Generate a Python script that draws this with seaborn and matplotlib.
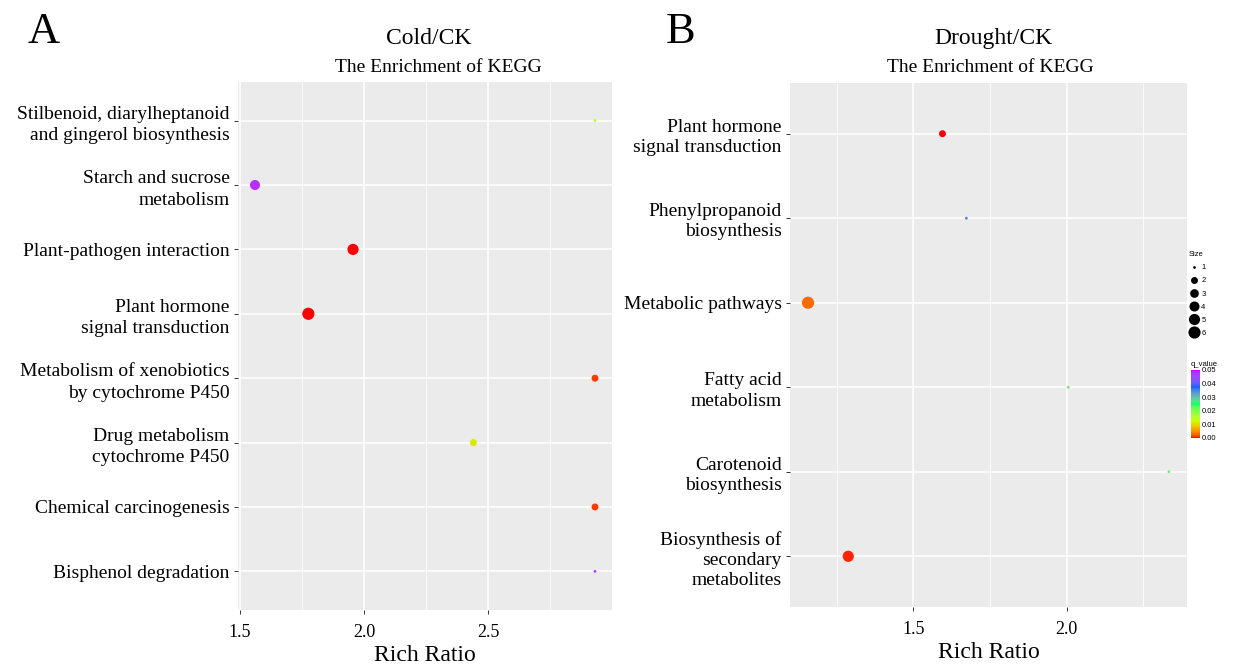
import numpy as np
import pandas as pd
import matplotlib
matplotlib.use("Agg")
import matplotlib.pyplot as plt
from matplotlib.colors import ListedColormap, Normalize, to_rgb
from matplotlib.cm import ScalarMappable
from matplotlib.lines import Line2D
import seaborn as sns

# ---------------- data ----------------
cold_pathways = [
    "Stilbenoid, diarylheptanoid\nand gingerol biosynthesis",
    "Starch and sucrose\nmetabolism",
    "Plant-pathogen interaction",
    "Plant hormone\nsignal transduction",
    "Metabolism of xenobiotics\nby cytochrome P450",
    "Drug metabolism\ncytochrome P450",
    "Chemical carcinogenesis",
    "Bisphenol degradation",
]
cold_ratio = [2.93, 1.56, 1.955, 1.775, 2.93, 2.44, 2.93, 2.93]
cold_q = [0.015, 0.048, 0.0, 0.0, 0.001, 0.011, 0.001, 0.048]
cold_size = [1, 4, 5, 6, 2, 2, 2, 1]

drought_pathways = [
    "Plant hormone\nsignal transduction",
    "Phenylpropanoid\nbiosynthesis",
    "Metabolic pathways",
    "Fatty acid\nmetabolism",
    "Carotenoid\nbiosynthesis",
    "Biosynthesis of\nsecondary\nmetabolites",
]
drought_ratio = [1.595, 1.673, 1.157, 2.005, 2.333, 1.288]
drought_q = [0.0, 0.036, 0.003, 0.023, 0.023, 0.0005]
drought_size = [2, 1, 6, 1, 1, 5]

size_levels = [1, 2, 3, 4, 5, 6]
q_ticks = [0.00, 0.01, 0.02, 0.03, 0.04, 0.05]
gradient_colours = ["#FF0000", "#CCFF00", "#00FF66", "#0066FF", "#CC00FF"]
cold_xticks = [1.5, 2.0, 2.5]
cold_xminor = [1.75, 2.25, 2.75]
drought_xticks = [1.5, 2.0]
drought_xminor = [1.25, 1.75, 2.25]

# ---------------- style ----------------
sns.set_theme(style="darkgrid", rc={
    "axes.facecolor": "#EBEBEB",
    "grid.color": "white",
    "axes.edgecolor": "#EBEBEB",
    "text.color": "black",
    "axes.labelcolor": "black",
    "xtick.color": "black",
    "ytick.color": "black",
})
plt.rcParams["font.family"] = ["Liberation Serif", "DejaVu Serif"]


# colour ramp interpolated in CIELAB (like ggplot's gradientn)
def srgb_to_lab(c):
    c = np.asarray(c, float)
    lin = np.where(c <= 0.04045, c / 12.92, ((c + 0.055) / 1.055) ** 2.4)
    M = np.array([[0.4124, 0.3576, 0.1805],
                  [0.2126, 0.7152, 0.0722],
                  [0.0193, 0.1192, 0.9505]])
    xyz = lin @ M.T / np.array([0.95047, 1.0, 1.08883])
    f = np.where(xyz > 0.008856, np.cbrt(xyz), 7.787 * xyz + 16 / 116)
    L = 116 * f[..., 1] - 16
    a = 500 * (f[..., 0] - f[..., 1])
    b = 200 * (f[..., 1] - f[..., 2])
    return np.stack([L, a, b], -1)


def lab_to_srgb(lab):
    L, a, b = lab[..., 0], lab[..., 1], lab[..., 2]
    fy = (L + 16) / 116
    fx = fy + a / 500
    fz = fy - b / 200
    f = np.stack([fx, fy, fz], -1)
    xyz = np.where(f > 0.206893, f ** 3, (f - 16 / 116) / 7.787)
    xyz = xyz * np.array([0.95047, 1.0, 1.08883])
    Minv = np.array([[3.2406, -1.5372, -0.4986],
                     [-0.9689, 1.8758, 0.0415],
                     [0.0557, -0.2040, 1.0570]])
    lin = xyz @ Minv.T
    lin = np.clip(lin, 0, 1)
    c = np.where(lin <= 0.0031308, 12.92 * lin, 1.055 * lin ** (1 / 2.4) - 0.055)
    return np.clip(c, 0, 1)


labs = srgb_to_lab([to_rgb(c) for c in gradient_colours])
pos = np.linspace(0, 1, len(gradient_colours))
tt = np.linspace(0, 1, 256)
lab_ramp = np.stack([np.interp(tt, pos, labs[:, k]) for k in range(3)], -1)
cmap = ListedColormap(lab_to_srgb(lab_ramp))
qnorm = Normalize(0, 0.05)


def diam_px(v):
    dmm = 1 + 5 * np.sqrt((v - 1) / 5.0)
    return 0.8 + 1.9 * dmm


size_map = {v: (diam_px(v) * 0.72) ** 2 for v in size_levels}

fig = plt.figure(figsize=(12.33, 6.67), dpi=100)
W, H = 1233.0, 667.0


def make_ax(x0, y0, x1, y1):
    return fig.add_axes([x0 / W, 1 - y1 / H, (x1 - x0) / W, (y1 - y0) / H])


axL = make_ax(238, 82, 612, 610)
axR = make_ax(790, 83, 1187, 607)


def draw(ax, paths, ratio, q, size, xt, xm, lsp):
    df = pd.DataFrame({"pathway": paths, "ratio": ratio, "q": q, "size": size})
    sns.scatterplot(data=df, x="ratio", y="pathway", hue="q", size="size",
                    palette=cmap, hue_norm=qnorm, sizes=size_map,
                    linewidth=0, legend=False, ax=ax, zorder=3)
    n = len(paths)
    ax.set_ylim(n - 0.4, -0.6)
    ax.margins(x=0.05)
    ax.set_xticks(xt)
    ax.set_xticks(xm, minor=True)
    ax.set_xticklabels([f"{t:.1f}" for t in xt])
    ax.grid(True, which="major", color="white", lw=1.1)
    ax.grid(True, which="minor", axis="x", color="white", lw=0.55)
    ax.tick_params(axis="both", which="major", length=3, width=0.7,
                   color="#333333", labelcolor="black", left=True, bottom=True)
    ax.tick_params(axis="x", which="minor", length=0)
    ax.tick_params(axis="y", labelsize=14, pad=3)
    ax.tick_params(axis="x", labelsize=13, pad=7)
    for lab in ax.get_yticklabels():
        lab.set_linespacing(lsp)
    ax.set_ylabel("")
    ax.set_xlabel("Rich Ratio", fontsize=17, labelpad=3)
    for s in ax.spines.values():
        s.set_visible(False)


draw(axL, cold_pathways, cold_ratio, cold_q, cold_size, cold_xticks,
     cold_xminor, 1.35)
draw(axR, drought_pathways, drought_ratio, drought_q, drought_size,
     drought_xticks, drought_xminor, 1.25)

# titles
fig.text(429 / W, 1 - 44 / H, "Cold/CK", fontsize=17, ha="center", va="baseline")
fig.text(438 / W, 1 - 72 / H, "The Enrichment of KEGG", fontsize=14,
         ha="center", va="baseline")
fig.text(993 / W, 1 - 44 / H, "Drought/CK", fontsize=17, ha="center", va="baseline")
fig.text(990 / W, 1 - 72 / H, "The Enrichment of KEGG", fontsize=14,
         ha="center", va="baseline")
fig.text(28 / W, 1 - 43 / H, "A", fontsize=32, ha="left", va="baseline")
fig.text(666 / W, 1 - 43 / H, "B", fontsize=32, ha="left", va="baseline")

# size legend
handles = [Line2D([], [], marker="o", ls="", color="black", markeredgewidth=0,
                  markersize=np.sqrt(size_map[v])) for v in size_levels]
leg = fig.legend(handles, [str(v) for v in size_levels], title="Size",
                 loc="upper left", bbox_to_anchor=(1183 / W, 1 - 246 / H),
                 frameon=False, prop={"family": "Liberation Sans", "size": 5.5},
                 title_fontproperties={"family": "Liberation Sans", "size": 5.5},
                 handlelength=1.4, handletextpad=0.3, labelspacing=0.75,
                 borderpad=0.2, alignment="left")

# colour bar
cax = make_ax(1191, 370, 1200, 438)
cb = fig.colorbar(ScalarMappable(norm=qnorm, cmap=cmap), cax=cax, ticks=q_ticks)
cb.outline.set_visible(False)
cb.ax.set_yticklabels([f"{t:.2f}" for t in q_ticks],
                      fontfamily="Liberation Sans", fontsize=5.5)
cb.ax.tick_params(direction="in", length=2, width=0.6, color="white", pad=1.5,
                  left=True, right=True)
cax.text(0, 1.03, "q_value", transform=cax.transAxes, ha="left", va="bottom",
         fontfamily="Liberation Sans", fontsize=5.5)

fig.savefig("out.png", dpi=100)
